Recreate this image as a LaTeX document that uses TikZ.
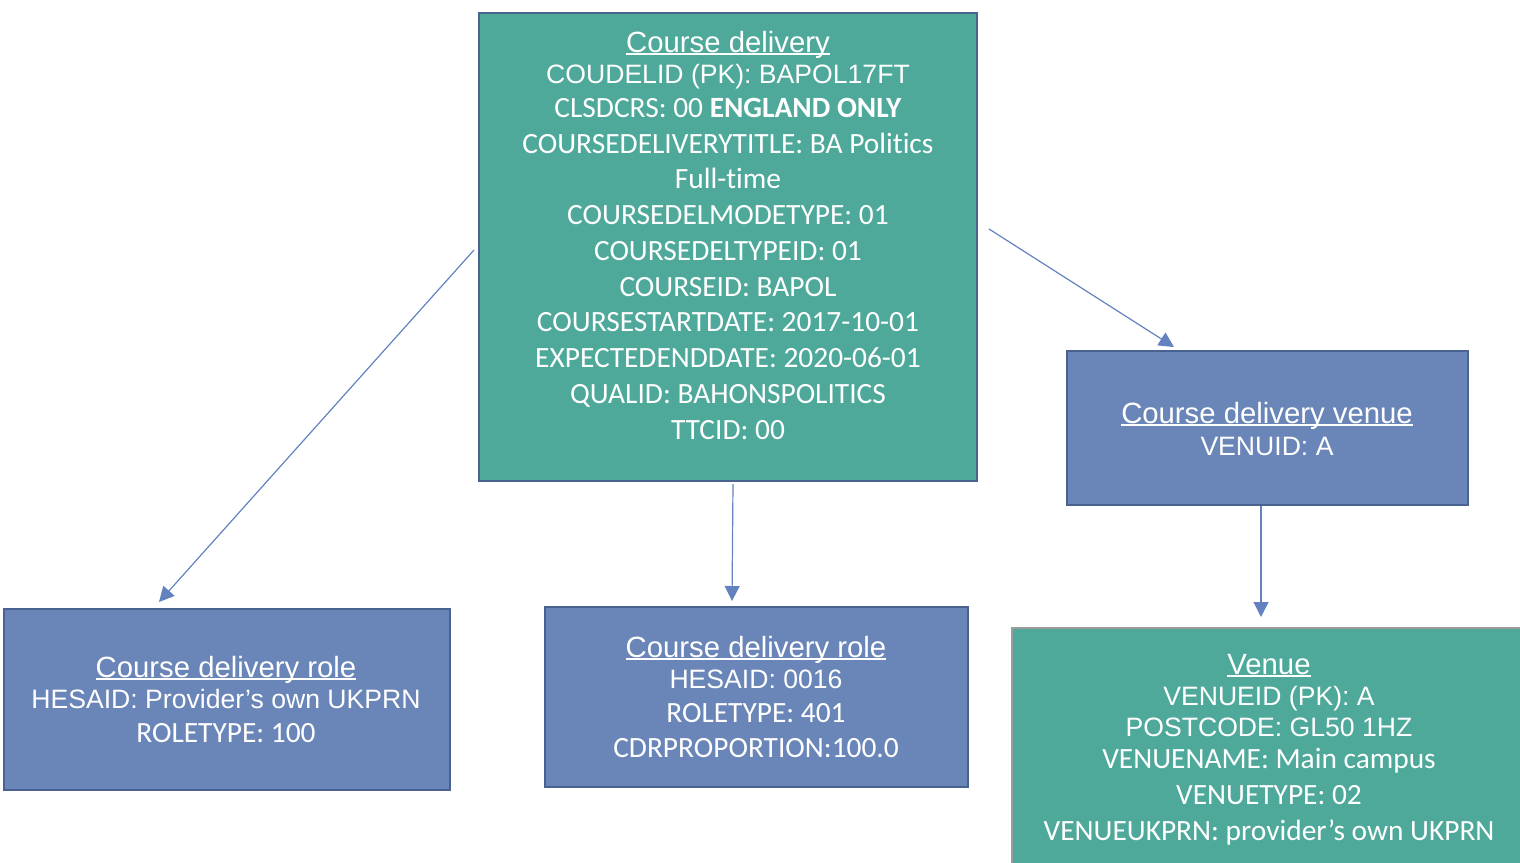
\documentclass[tikz,border=0pt]{standalone}
\usepackage{fontspec}
\setmainfont{Liberation Sans}
\newfontfamily\calfont[Ligatures=NoCommon]{Carlito}
\usetikzlibrary{arrows.meta}
\definecolor{tealfill}{HTML}{4EA99A}
\definecolor{bluefill}{HTML}{6A86B8}
\definecolor{boxline}{HTML}{4A6290}
\definecolor{arrowline}{HTML}{6482C0}
\definecolor{greyline}{HTML}{9C9C9C}
\newcommand\myul[1]{\setbox0\hbox{#1}\rlap{\rule[-3pt]{\wd0}{1.9pt}}\box0}
\begin{document}
\begin{tikzpicture}[x=1pt,y=-1pt,
  boxbase/.style={rectangle,inner sep=0pt,line width=2.5pt,anchor=center},
  tealbox/.style={boxbase,draw=boxline,fill=tealfill},
  bluebox/.style={boxbase,draw=boxline,fill=bluefill},
  greybox/.style={boxbase,draw=greyline,fill=tealfill},
  txt/.style={text=white,inner sep=0pt,anchor=base},
  ttl/.style={txt,font=\fontsize{29.3}{33}\selectfont},
  ar/.style={txt,font=\fontsize{26.6}{30}\selectfont},
  ca/.style={txt,font=\calfont\fontsize{29.4}{34}\selectfont},
  conn/.style={draw=arrowline,line width=1.2pt,-{Triangle[length=15pt,width=15pt]}}]
\useasboundingbox (0,0) rectangle (1520,862);
\fill[white] (0,0) rectangle (1520,862);
% boxes
\node[tealbox,minimum width=498pt,minimum height=468pt] (cd) at (728,247) {};
\node[bluebox,minimum width=401pt,minimum height=154pt] (cdv) at (1267.5,428) {};
\node[bluebox,minimum width=446pt,minimum height=181pt] (role1) at (227,699.5) {};
\node[bluebox,minimum width=423pt,minimum height=180pt] (role2) at (756.5,697) {};
\node[greybox,minimum width=520pt,minimum height=260pt] (venue) at (1272,758) {};
% course delivery text
\node[ttl] (cd1) at (728,52) {\myul{Course delivery}};
\node[ar] (cd2) at (728,83) {COUDELID (PK): BAPOL17FT};
\node[ca] (cd3) at (728,117) {CLSDCRS: 00 \textbf{ENGLAND ONLY}};
\node[ca] (cd4) at (728,153) {COURSEDELIVERYTITLE: BA Politics};
\node[ca] (cd5) at (728,188) {Full-time};
\node[ca] (cd6) at (728,224) {COURSEDELMODETYPE: 01};
\node[ca] (cd7) at (728,260) {COURSEDELTYPEID: 01};
\node[ca] (cd8) at (728,296) {COURSEID: BAPOL};
\node[ca] (cd9) at (728,331) {COURSESTARTDATE: 2017-10-01};
\node[ca] (cd10) at (728,367) {EXPECTEDENDDATE: 2020-06-01};
\node[ca] (cd11) at (728,403) {QUALID: BAHONSPOLITICS};
\node[ca] (cd12) at (728,439) {TTCID: 00};
% course delivery venue text
\node[ttl] (cdv1) at (1267,423) {\myul{Course delivery venue}};
\node[ar] (cdv2) at (1267,455) {VENUID: A};
% role 1 text
\node[ttl] (r11) at (226,677) {\myul{Course delivery role}};
\node[ar] (r12) at (226,708) {HESAID: Provider’s own UKPRN};
\node[ca] (r13) at (226,742) {ROLETYPE: 100};
% role 2 text
\node[ttl] (r21) at (756,657) {\myul{Course delivery role}};
\node[ar] (r22) at (756,688) {HESAID: 0016};
\node[ca] (r23) at (756,722) {ROLETYPE: 401};
\node[ca] (r24) at (756,757) {CDRPROPORTION:100.0};
% venue text
\node[ttl] (v1) at (1269,674) {\myul{Venue}};
\node[ar] (v2) at (1269,705) {VENUEID (PK): A};
\node[ar] (v3) at (1269,736) {POSTCODE: GL50 1HZ};
\node[ca] (v4) at (1269,768) {VENUENAME: Main campus};
\node[ca] (v5) at (1269,804) {VENUETYPE: 02};
\node[ca] (v6) at (1269,840) {VENUEUKPRN: provider’s own UKPRN};
% connectors
\coordinate (a1s) at (474,250);
\coordinate (a1e) at (159,602);
\coordinate (a2s) at (733,484);
\coordinate (a2e) at (732,601);
\coordinate (a3s) at (989,229);
\coordinate (a3e) at (1174,347);
\coordinate (a4s) at (1261,506);
\coordinate (a4e) at (1261,617);
\draw[conn] (a1s) -- (a1e);
\draw[conn] (a2s) -- (a2e);
\draw[conn] (a3s) -- (a3e);
\draw[conn] (a4s) -- (a4e);
\end{tikzpicture}
\end{document}
